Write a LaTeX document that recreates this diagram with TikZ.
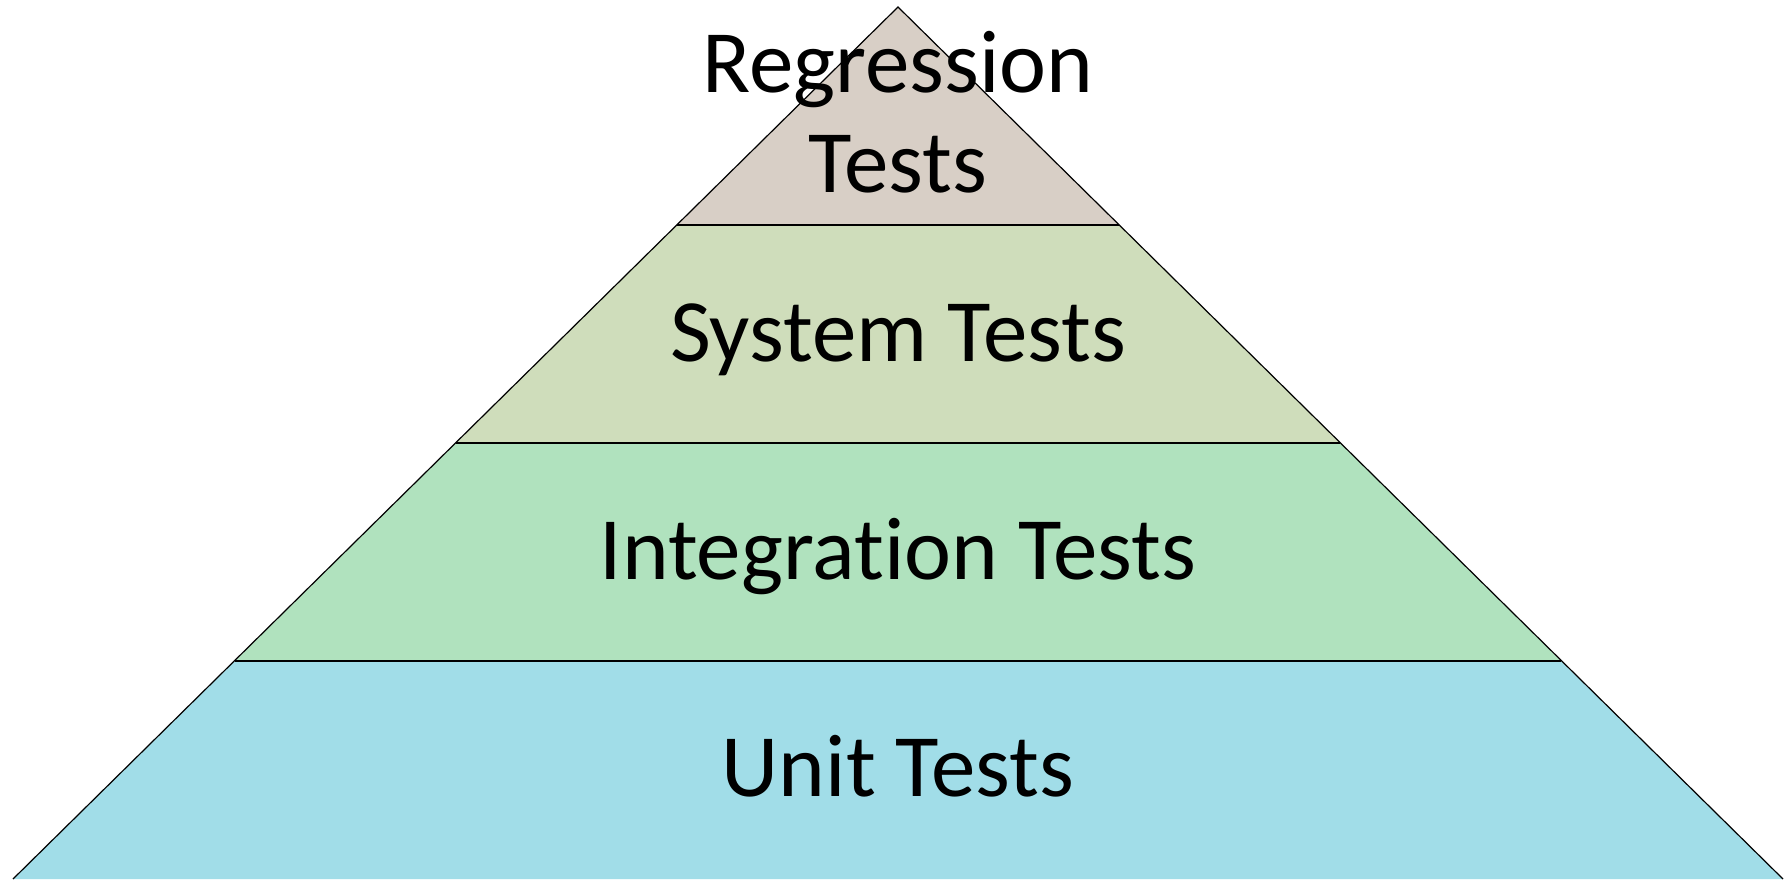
\documentclass[tikz,border=0pt]{standalone}
\usepackage{fontspec}
\setmainfont{Carlito}[Ligatures={NoCommon}]
\definecolor{bandA}{HTML}{D8CFC6}
\definecolor{bandB}{HTML}{CFDDBB}
\definecolor{bandC}{HTML}{B0E2BE}
\definecolor{bandD}{HTML}{A1DDE8}
\tikzset{
  edge/.style={draw=black, line width=1.2pt},
  label/.style={anchor=base, inner sep=0pt, align=center, font=\fontsize{89pt}{100pt}\selectfont}
}
\begin{document}
\begin{tikzpicture}[x=1pt,y=-1pt]
\useasboundingbox (0,0) rectangle (1791,879);
% corner points
\coordinate (apex) at (898,7);
\coordinate (l1) at (677,225);  \coordinate (r1) at (1119,225);
\coordinate (l2) at (456,443);  \coordinate (r2) at (1340,443);
\coordinate (l3) at (235,661);  \coordinate (r3) at (1561,661);
\coordinate (l4) at (13,879);   \coordinate (r4) at (1783,879);
% bands
\fill[bandA] (apex) -- (r1) -- (l1) -- cycle;
\fill[bandB] (l1) -- (r1) -- (r2) -- (l2) -- cycle;
\fill[bandC] (l2) -- (r2) -- (r3) -- (l3) -- cycle;
\fill[bandD] (l3) -- (r3) -- (r4) -- (l4) -- cycle;
% outlines
\draw[edge] (l4) -- (apex) -- (r4);
\draw[edge] (l1) -- (r1);
\draw[edge] (l2) -- (r2);
\draw[edge] (l3) -- (r3);
% labels
\node[label] (regression) at (898,92) {Regression};
\node[label] (regtests) at (898,192) {Tests};
\node[label] (system) at (898,361) {System Tests};
\node[label] (integration) at (898,579) {Integration Tests};
\node[label] (unit) at (898,796) {Unit Tests};
\end{tikzpicture}
\end{document}
